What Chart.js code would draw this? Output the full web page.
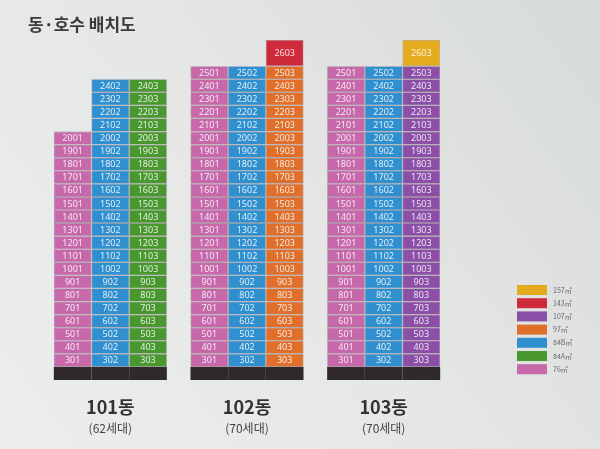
<!DOCTYPE html>
<html><head><meta charset="utf-8">
<script src="https://cdn.jsdelivr.net/npm/chart.js@4.4.1/dist/chart.umd.min.js"></script>
<style>html,body{margin:0;padding:0;background:#e4e6e5}canvas{display:block}</style>
</head><body>
<canvas id="c" width="600" height="449"></canvas>
<script>
// ---- data ----
const chartTitle = '동·호수 배치도';
const buildings = ['101동', '102동', '103동'];
const households = ['(62세대)', '(70세대)', '(70세대)'];
const lineNumbers = [1, 2, 3];
const lowestFloor = 3;
const topFloors = [[20, 24, 24], [25, 25, 25], [25, 25, 25]];
const lineTypes = [['76㎡', '84B㎡', '84A㎡'], ['76㎡', '84B㎡', '97㎡'], ['76㎡', '84B㎡', '107㎡']];
const penthouseFloors = [null, 26, 26];
const penthouseLines = [null, 3, 3];
const penthouseTypes = [null, '143㎡', '157㎡'];
const penthouseStoreys = [null, 2, 2];
const legendTypes = ['157㎡', '143㎡', '107㎡', '97㎡', '84B㎡', '84A㎡', '76㎡'];
const typeColors = ['#e4ab1e', '#cf2a3b', '#8b4fa7', '#df6f2b', '#2f8fcf', '#48972f', '#c768ab'];
const baseColor = '#2f2929';

// ---- build datasets ----
const colorOf = t => typeColors[legendTypes.indexOf(t)];
const highestFloor = Math.max(...topFloors.flat(), ...penthouseFloors.filter(v => v !== null));
const datasets = [];
lineNumbers.forEach((ln, li) => {
  datasets.push({
    label: 'base', stack: 'L' + ln, isBase: true,
    data: buildings.map(() => 1),
    backgroundColor: baseColor, borderWidth: 0
  });
  for (let f = lowestFloor; f <= highestFloor; f++) {
    const data = [], colors = [];
    buildings.forEach((b, bi) => {
      if (f <= topFloors[bi][li]) {
        data.push(1); colors.push(colorOf(lineTypes[bi][li]));
      } else if (penthouseFloors[bi] === f && penthouseLines[bi] === ln) {
        data.push(penthouseStoreys[bi]); colors.push(colorOf(penthouseTypes[bi]));
      } else { data.push(null); colors.push('rgba(0,0,0,0)'); }
    });
    datasets.push({
      label: f + '층 ' + ln + '호', stack: 'L' + ln, floor: f, line: ln,
      data, backgroundColor: colors,
      borderColor: 'rgba(45,20,40,0.45)', borderWidth: 0.6, borderSkipped: false
    });
  }
});
const yMax = Math.max(...buildings.map((b, bi) =>
  1 + Math.max(...topFloors[bi]) - lowestFloor + 1 + (penthouseStoreys[bi] || 0)));

const bgPlugin = {
  id: 'bg',
  beforeDraw(chart) {
    const { ctx, width, height } = chart;
    const g = ctx.createLinearGradient(0, height, width, 0);
    g.addColorStop(0, '#eceeed');
    g.addColorStop(0.5, '#e5e7e6');
    g.addColorStop(1, '#d6dad8');
    ctx.save(); ctx.fillStyle = g; ctx.fillRect(0, 0, width, height); ctx.restore();
  }
};

const labelPlugin = {
  id: 'cellLabels',
  afterDatasetsDraw(chart) {
    const ctx = chart.ctx;
    ctx.save();
    ctx.font = '9px "Noto Sans", sans-serif';
    ctx.textAlign = 'center'; ctx.textBaseline = 'middle';
    ctx.fillStyle = 'rgba(255,255,255,0.85)';
    chart.data.datasets.forEach((ds, di) => {
      if (ds.isBase) return;
      const meta = chart.getDatasetMeta(di);
      meta.data.forEach((el, i) => {
        if (ds.data[i] === null) return;
        ctx.fillText(ds.floor + '0' + ds.line, el.x, (el.y + el.base) / 2 + 0.5);
      });
    });
    // title
    ctx.textAlign = 'left';
    ctx.fillStyle = '#3b3b3b';
    ctx.font = 'bold 17px "Noto Sans CJK KR", sans-serif';
    ctx.fillText(chartTitle, 28, 25);
    // legend
    ctx.font = '7px "Noto Sans CJK KR", sans-serif';
    legendTypes.forEach((t, i) => {
      const y = 290 + i * 13.2;
      ctx.fillStyle = typeColors[i];
      ctx.fillRect(517, y - 5, 30, 10);
      ctx.fillStyle = '#666';
      ctx.fillText(t, 553, y);
    });
    ctx.restore();
  }
};

new Chart(document.getElementById('c'), {
  type: 'bar',
  data: { labels: buildings, datasets },
  options: {
    responsive: false, animation: false,
    categoryPercentage: 0.827, barPercentage: 1.0,
    layout: { padding: { left: 42, right: 148, top: 40, bottom: 12.6 } },
    plugins: { legend: { display: false }, tooltip: { enabled: false }, title: { display: false } },
    scales: {
      x: {
        stacked: true, offset: true,
        grid: { display: true, drawOnChartArea: false, drawTicks: true, tickLength: 14, tickColor: 'rgba(0,0,0,0)' },
        border: { display: false },
        ticks: { padding: 2, color: '#333', font: { family: '"Noto Sans CJK KR", sans-serif', size: 18, weight: 'bold' } }
      },
      x2: {
        type: 'category', position: 'bottom', labels: households, offset: true,
        grid: { display: false, drawTicks: false }, border: { display: false },
        ticks: { padding: 1.2, color: '#444', font: { family: '"Noto Sans CJK KR", sans-serif', size: 12 } }
      },
      y: { stacked: true, display: false, min: 0, max: yMax }
    }
  },
  plugins: [bgPlugin, labelPlugin]
});
</script>
</body></html>
